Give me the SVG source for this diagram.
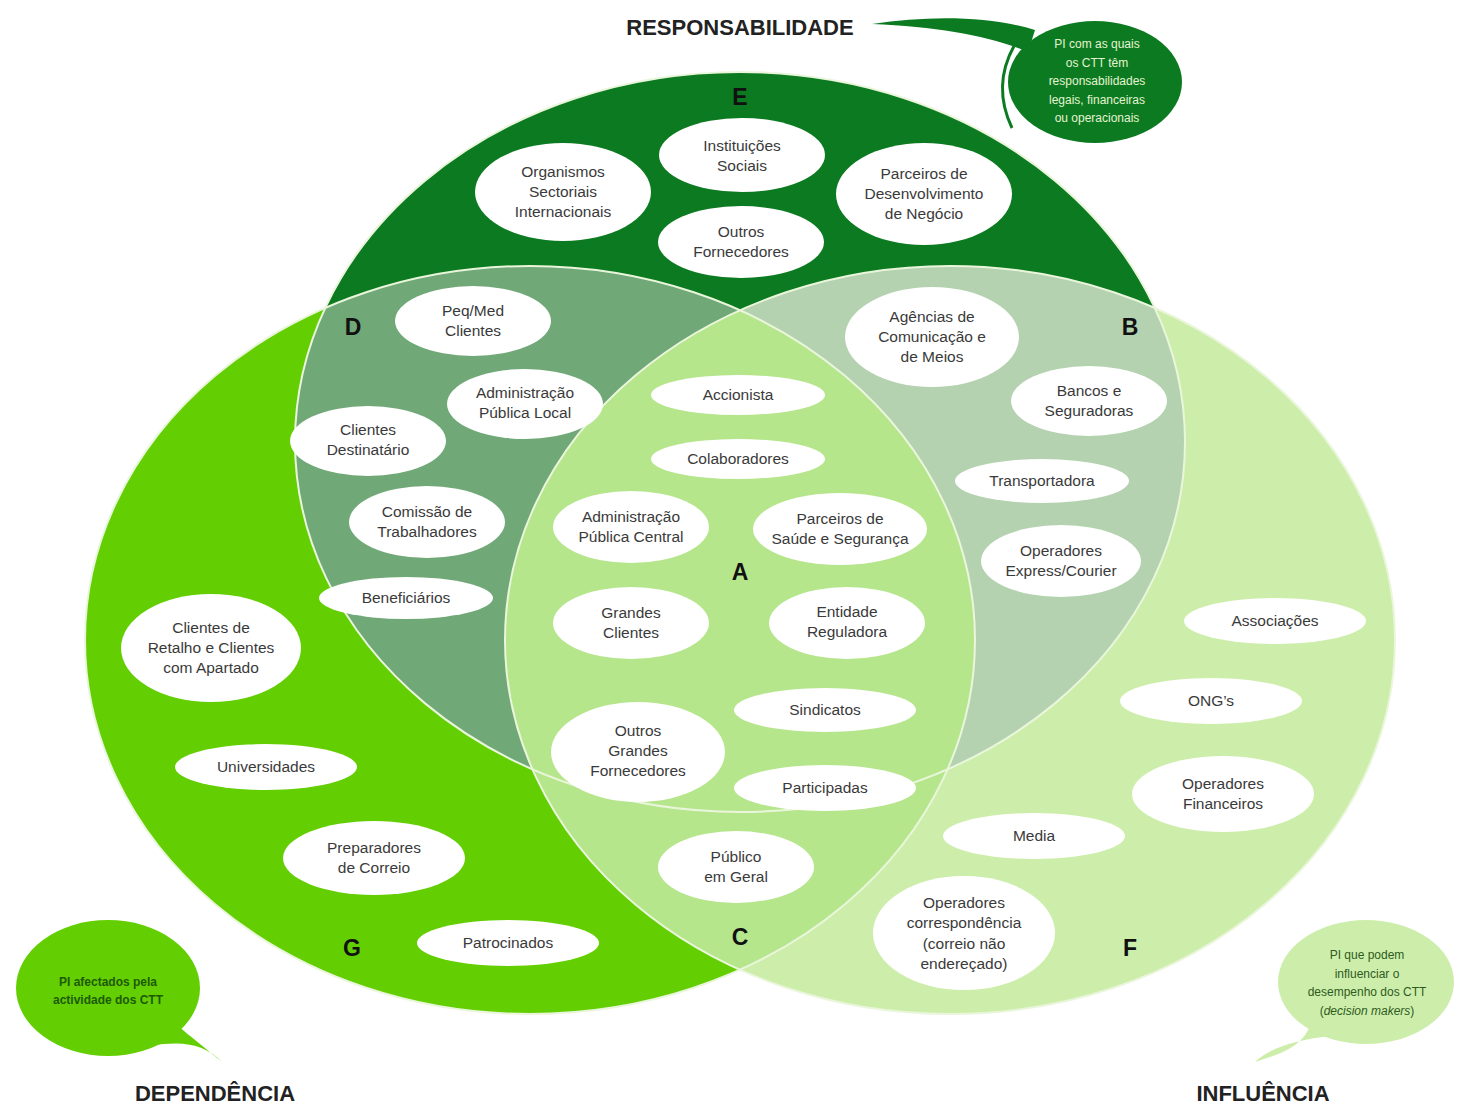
<svg xmlns="http://www.w3.org/2000/svg" width="1457" height="1106" viewBox="0 0 1457 1106">
<defs>
<style>
.node ellipse{fill:#ffffff;}
.node text{font-family:"Liberation Sans",Arial,sans-serif;font-size:15.5px;fill:#3a3a3a;text-anchor:middle;}
.lbl{font-family:"Liberation Sans",Arial,sans-serif;font-size:23px;font-weight:bold;fill:#111;text-anchor:middle;}
.title{font-family:"Liberation Sans",Arial,sans-serif;font-size:22px;font-weight:bold;fill:#222;text-anchor:middle;}
.edge{fill:none;stroke:#eaf6dc;stroke-width:2;}
.btxt{font-family:"Liberation Sans",Arial,sans-serif;font-size:12px;text-anchor:middle;}
</style>
<clipPath id="cT"><ellipse cx="740" cy="442" rx="445" ry="370"/></clipPath>
<clipPath id="cL"><ellipse cx="530" cy="640" rx="445" ry="374"/></clipPath>
<clipPath id="cR"><ellipse cx="950" cy="640" rx="445" ry="374"/></clipPath>
</defs>
<rect width="1457" height="1106" fill="#ffffff"/>

<g id="venn">
<ellipse cx="530" cy="640" rx="445" ry="374" fill="#63cf03"/>
<ellipse cx="950" cy="640" rx="445" ry="374" fill="#cdeeaa"/>
<ellipse cx="740" cy="442" rx="445" ry="370" fill="#0c7a20"/>
<g clip-path="url(#cR)"><ellipse cx="530" cy="640" rx="445" ry="374" fill="#b6e68c"/></g>
<g clip-path="url(#cT)"><ellipse cx="530" cy="640" rx="445" ry="374" fill="#70a878"/></g>
<g clip-path="url(#cT)"><ellipse cx="950" cy="640" rx="445" ry="374" fill="#b4d2b0"/></g>
<g clip-path="url(#cT)"><g clip-path="url(#cL)"><ellipse cx="950" cy="640" rx="445" ry="374" fill="#b6e68c"/></g></g>
<ellipse class="edge" cx="530" cy="640" rx="445" ry="374"/>
<ellipse class="edge" cx="950" cy="640" rx="445" ry="374"/>
<ellipse class="edge" cx="740" cy="442" rx="445" ry="370"/>
</g>

<g id="region-labels">
<text class="lbl" x="740" y="105">E</text>
<text class="lbl" x="353" y="335">D</text>
<text class="lbl" x="1130" y="335">B</text>
<text class="lbl" x="740" y="580">A</text>
<text class="lbl" x="740" y="945">C</text>
<text class="lbl" x="352" y="956">G</text>
<text class="lbl" x="1130" y="956">F</text>
</g>

<g id="titles">
<text class="title" x="740" y="35">RESPONSABILIDADE</text>
<text class="title" x="215" y="1101">DEPENDÊNCIA</text>
<text class="title" x="1263" y="1101">INFLUÊNCIA</text>
</g>

<g id="bubble-responsabilidade">
<path d="M872 24 C930 15 990 16 1035 30 L1028 52 C990 36 940 27 872 24 Z" fill="#0c7a20"/>
<path d="M1014 46 Q992 86 1012 128" fill="none" stroke="#0c7a20" stroke-width="3"/>
<ellipse cx="1095" cy="82" rx="87" ry="61" fill="#0c7a20"/>
<text class="btxt" fill="#e4f4d2" x="1097" y="48"><tspan x="1097">PI com as quais</tspan><tspan x="1097" dy="18.5">os CTT têm</tspan><tspan x="1097" dy="18.5">responsabilidades</tspan><tspan x="1097" dy="18.5">legais, financeiras</tspan><tspan x="1097" dy="18.5">ou operacionais</tspan></text>
</g>

<g id="bubble-dependencia">
<path d="M150 1046 C185 1040 205 1045 222 1062 C205 1048 190 1036 178 1026 Z" fill="#63cf03"/>
<ellipse cx="108" cy="988" rx="92" ry="68" fill="#63cf03"/>
<text class="btxt" fill="#1d5a06" font-weight="bold" x="108" y="986"><tspan x="108">PI afectados pela</tspan><tspan x="108" dy="18">actividade dos CTT</tspan></text>
</g>

<g id="bubble-influencia">
<path d="M1330 1036 C1295 1040 1270 1048 1255 1062 C1275 1055 1300 1050 1310 1026 Z" fill="#cdeeaa"/>
<ellipse cx="1366" cy="982" rx="88" ry="62" fill="#cdeeaa"/>
<text class="btxt" fill="#2f5a22" x="1367" y="959"><tspan x="1367">PI que podem</tspan><tspan x="1367" dy="18.5">influenciar o</tspan><tspan x="1367" dy="18.5">desempenho dos CTT</tspan><tspan x="1367" dy="18.5">(<tspan font-style="italic">decision makers</tspan>)</tspan></text>
</g>

<g id="nodes">
<g id="n-organismos" class="node"><ellipse cx="563" cy="192" rx="88" ry="49"/><text x="563" y="177"><tspan x="563">Organismos</tspan><tspan x="563" dy="20">Sectoriais</tspan><tspan x="563" dy="20">Internacionais</tspan></text></g>
<g id="n-instituicoes" class="node"><ellipse cx="742" cy="155" rx="83" ry="37"/><text x="742" y="151"><tspan x="742">Instituições</tspan><tspan x="742" dy="20">Sociais</tspan></text></g>
<g id="n-outros-fornecedores" class="node"><ellipse cx="741" cy="242" rx="83" ry="36"/><text x="741" y="237"><tspan x="741">Outros</tspan><tspan x="741" dy="20">Fornecedores</tspan></text></g>
<g id="n-parceiros-negocio" class="node"><ellipse cx="924" cy="194" rx="88" ry="51"/><text x="924" y="179"><tspan x="924">Parceiros de</tspan><tspan x="924" dy="20">Desenvolvimento</tspan><tspan x="924" dy="20">de Negócio</tspan></text></g>

<g id="n-peq-med" class="node"><ellipse cx="473" cy="321" rx="78" ry="35"/><text x="473" y="316"><tspan x="473">Peq/Med</tspan><tspan x="473" dy="20">Clientes</tspan></text></g>
<g id="n-admin-local" class="node"><ellipse cx="525" cy="404" rx="78" ry="35"/><text x="525" y="398"><tspan x="525">Administração</tspan><tspan x="525" dy="20">Pública Local</tspan></text></g>
<g id="n-clientes-destinatario" class="node"><ellipse cx="368" cy="441" rx="78" ry="35"/><text x="368" y="435"><tspan x="368">Clientes</tspan><tspan x="368" dy="20">Destinatário</tspan></text></g>
<g id="n-comissao" class="node"><ellipse cx="427" cy="522" rx="78" ry="36"/><text x="427" y="517"><tspan x="427">Comissão de</tspan><tspan x="427" dy="20">Trabalhadores</tspan></text></g>
<g id="n-beneficiarios" class="node"><ellipse cx="406" cy="598" rx="87" ry="21"/><text x="406" y="603">Beneficiários</text></g>

<g id="n-agencias" class="node"><ellipse cx="932" cy="337" rx="87" ry="50"/><text x="932" y="322"><tspan x="932">Agências de</tspan><tspan x="932" dy="20">Comunicação e</tspan><tspan x="932" dy="20">de Meios</tspan></text></g>
<g id="n-bancos" class="node"><ellipse cx="1089" cy="401" rx="78" ry="35"/><text x="1089" y="396"><tspan x="1089">Bancos e</tspan><tspan x="1089" dy="20">Seguradoras</tspan></text></g>
<g id="n-transportadora" class="node"><ellipse cx="1042" cy="481" rx="87" ry="22"/><text x="1042" y="486">Transportadora</text></g>
<g id="n-express" class="node"><ellipse cx="1061" cy="561" rx="80" ry="36"/><text x="1061" y="556"><tspan x="1061">Operadores</tspan><tspan x="1061" dy="20">Express/Courier</tspan></text></g>

<g id="n-accionista" class="node"><ellipse cx="738" cy="395" rx="87" ry="20"/><text x="738" y="400">Accionista</text></g>
<g id="n-colaboradores" class="node"><ellipse cx="738" cy="459" rx="87" ry="20"/><text x="738" y="464">Colaboradores</text></g>
<g id="n-admin-central" class="node"><ellipse cx="631" cy="527" rx="78" ry="36"/><text x="631" y="522"><tspan x="631">Administração</tspan><tspan x="631" dy="20">Pública Central</tspan></text></g>
<g id="n-parceiros-saude" class="node"><ellipse cx="840" cy="529" rx="87" ry="36"/><text x="840" y="524"><tspan x="840">Parceiros de</tspan><tspan x="840" dy="20">Saúde e Segurança</tspan></text></g>
<g id="n-grandes-clientes" class="node"><ellipse cx="631" cy="623" rx="78" ry="36"/><text x="631" y="618"><tspan x="631">Grandes</tspan><tspan x="631" dy="20">Clientes</tspan></text></g>
<g id="n-entidade" class="node"><ellipse cx="847" cy="623" rx="78" ry="36"/><text x="847" y="617"><tspan x="847">Entidade</tspan><tspan x="847" dy="20">Reguladora</tspan></text></g>
<g id="n-sindicatos" class="node"><ellipse cx="825" cy="710" rx="91" ry="22"/><text x="825" y="715">Sindicatos</text></g>
<g id="n-outros-grandes" class="node"><ellipse cx="638" cy="752" rx="87" ry="50"/><text x="638" y="736"><tspan x="638">Outros</tspan><tspan x="638" dy="20">Grandes</tspan><tspan x="638" dy="20">Fornecedores</tspan></text></g>
<g id="n-participadas" class="node"><ellipse cx="825" cy="788" rx="91" ry="23"/><text x="825" y="793">Participadas</text></g>
<g id="n-publico" class="node"><ellipse cx="736" cy="867" rx="78" ry="36"/><text x="736" y="862"><tspan x="736">Público</tspan><tspan x="736" dy="20">em Geral</tspan></text></g>

<g id="n-clientes-retalho" class="node"><ellipse cx="211" cy="648" rx="90" ry="54"/><text x="211" y="633"><tspan x="211">Clientes de</tspan><tspan x="211" dy="20">Retalho e Clientes</tspan><tspan x="211" dy="20">com Apartado</tspan></text></g>
<g id="n-universidades" class="node"><ellipse cx="266" cy="767" rx="91" ry="23"/><text x="266" y="772">Universidades</text></g>
<g id="n-preparadores" class="node"><ellipse cx="374" cy="858" rx="91" ry="37"/><text x="374" y="853"><tspan x="374">Preparadores</tspan><tspan x="374" dy="20">de Correio</tspan></text></g>
<g id="n-patrocinados" class="node"><ellipse cx="508" cy="943" rx="91" ry="23"/><text x="508" y="948">Patrocinados</text></g>

<g id="n-associacoes" class="node"><ellipse cx="1275" cy="621" rx="91" ry="23"/><text x="1275" y="626">Associações</text></g>
<g id="n-ongs" class="node"><ellipse cx="1211" cy="701" rx="91" ry="23"/><text x="1211" y="706">ONG’s</text></g>
<g id="n-op-financeiros" class="node"><ellipse cx="1223" cy="794" rx="91" ry="38"/><text x="1223" y="789"><tspan x="1223">Operadores</tspan><tspan x="1223" dy="20">Financeiros</tspan></text></g>
<g id="n-media" class="node"><ellipse cx="1034" cy="836" rx="91" ry="23"/><text x="1034" y="841">Media</text></g>
<g id="n-op-correspondencia" class="node"><ellipse cx="964" cy="933" rx="91" ry="57"/><text x="964" y="908"><tspan x="964">Operadores</tspan><tspan x="964" dy="20">correspondência</tspan><tspan x="964" dy="20.5">(correio não</tspan><tspan x="964" dy="20">endereçado)</tspan></text></g>
</g>
<g id="connectors"></g>
</svg>
